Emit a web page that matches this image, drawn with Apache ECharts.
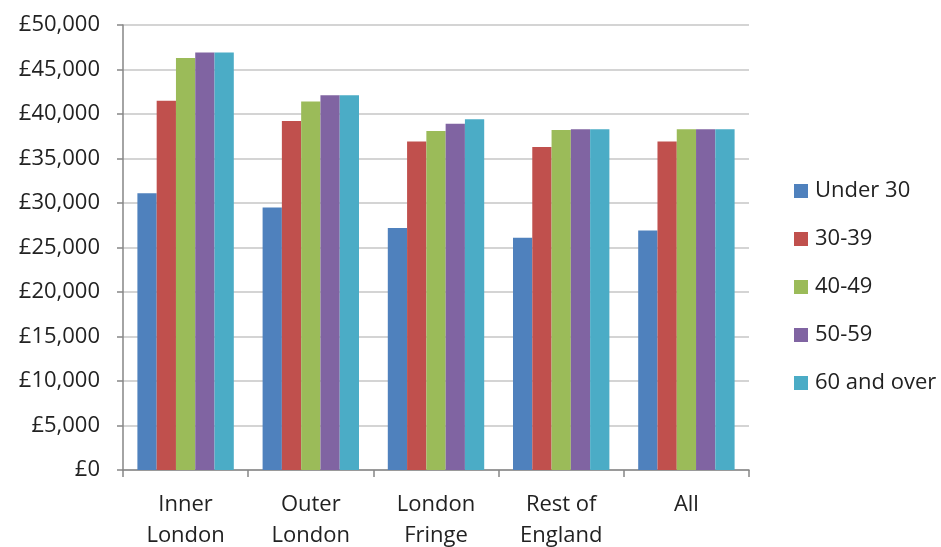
<!DOCTYPE html>
<html>
<head>
<meta charset="utf-8">
<script src="https://cdn.jsdelivr.net/npm/echarts@6/dist/echarts.min.js"></script>
<style>
  html, body { margin: 0; padding: 0; background: #fff; }
  #chart { width: 941px; height: 547px; }
</style>
</head>
<body>
<div id="chart"></div>
<script>
// Regions along the category axis
const regions = ['Inner\nLondon', 'Outer\nLondon', 'London\nFringe', 'Rest of\nEngland', 'All'];

// Median salary by age band, per region (£)
const under30   = [31100, 29500, 27200, 26100, 26900];
const age30to39 = [41500, 39200, 36900, 36300, 36900];
const age40to49 = [46300, 41400, 38100, 38200, 38300];
const age50to59 = [46900, 42100, 38900, 38300, 38300];
const age60plus = [46900, 42100, 39400, 38300, 38300];

const seriesNames = ['Under 30', '30-39', '40-49', '50-59', '60 and over'];
const seriesData = [under30, age30to39, age40to49, age50to59, age60plus];
const colors = ['#4F81BD', '#C0504D', '#9BBB59', '#8064A2', '#4BACC6'];

const FONT = '"Open Sans", "Noto Sans", sans-serif';
const FONT_SIZE = 22;

const chart = echarts.init(document.getElementById('chart'), null, { renderer: 'canvas' });

chart.setOption({
  animation: false,
  color: colors,
  textStyle: { fontFamily: FONT },
  grid: { left: 123, right: 192, top: 25, bottom: 77, outerBoundsMode: 'none', containLabel: false },
  legend: {
    orient: 'vertical',
    left: 789,
    top: 175,
    itemWidth: 14,
    itemHeight: 14,
    itemGap: 26,
    icon: 'rect',
    textStyle: { fontSize: FONT_SIZE, lineHeight: 22, color: '#222', fontFamily: FONT, padding: [0, 0, 0, 2] },
    data: seriesNames
  },
  xAxis: {
    type: 'category',
    data: regions,
    axisLine: { lineStyle: { color: '#868686', width: 1.5 } },
    axisTick: { show: true, length: 7, lineStyle: { color: '#868686', width: 1.5 } },
    axisLabel: {
      fontSize: FONT_SIZE,
      color: '#222',
      lineHeight: 31,
      margin: 19,
      fontFamily: FONT
    }
  },
  yAxis: {
    type: 'value',
    min: 0,
    max: 50000,
    interval: 5000,
    axisLine: { show: true, lineStyle: { color: '#868686', width: 1.5 } },
    axisTick: { show: true, length: 6, lineStyle: { color: '#868686', width: 1.5 } },
    splitLine: { lineStyle: { color: '#D4D4D4', width: 2 } },
    axisLabel: {
      fontSize: FONT_SIZE,
      color: '#222',
      margin: 23,
      fontFamily: FONT,
      formatter: v => '£' + v.toLocaleString('en-GB')
    }
  },
  series: seriesNames.map((name, i) => ({
    name,
    type: 'bar',
    data: seriesData[i],
    barGap: '0%',
    barCategoryGap: '23%',
    itemStyle: { color: colors[i] }
  }))
});
</script>
</body>
</html>
